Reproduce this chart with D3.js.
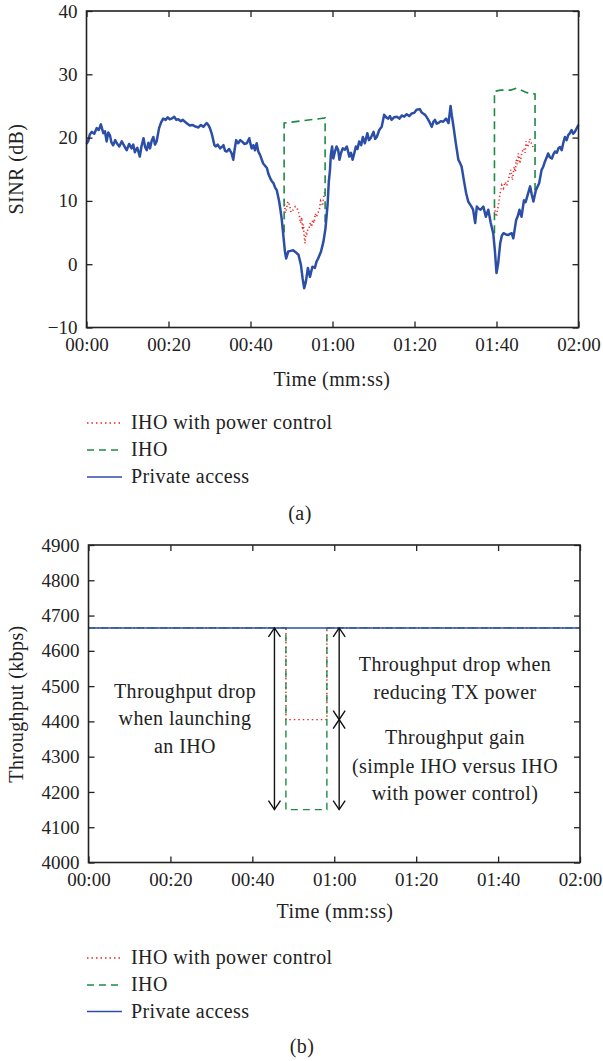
<!DOCTYPE html>
<html><head><meta charset="utf-8">
<script src="https://cdn.jsdelivr.net/npm/d3@7"></script>
<style>
html,body{margin:0;padding:0;background:#fff;}
svg text{font-family:"Liberation Serif","Times New Roman",serif;fill:#222;letter-spacing:0.4px;}
svg .tick text{letter-spacing:0;}
</style></head>
<body><svg id="c" width="603" height="1061"></svg>
<script>
// ---------- DATA ----------
const timeTicks = [0, 20, 40, 60, 80, 100, 120];
const sinrTicks = [-10, 0, 10, 20, 30, 40];
const tpTicks = [4000, 4100, 4200, 4300, 4400, 4500, 4600, 4700, 4800, 4900];
const legendLabels = ["IHO with power control", "IHO", "Private access"];

const sinrTime = [0,0.4,0.8,1.3,1.9,2.5,3.0,3.5,4.1,4.5,4.9,5.3,5.7,6.1,6.5,7.0,7.4,8.0,8.6,9.2,9.8,10.4,11.0,11.4,11.8,12.4,13.0,13.4,13.9,14.3,14.7,15.1,15.5,15.9,16.3,16.7,17.1,17.7,18.2,18.7,19.3,19.8,20.3,20.8,21.4,21.9,22.4,23.0,23.5,24.0,24.6,25.2,25.8,26.4,27.3,27.9,28.5,29.3,29.7,30.1,30.6,31.2,31.5,32.0,32.6,33.0,33.4,33.8,34.2,34.8,35.4,35.8,36.1,36.5,37.0,37.5,37.9,38.5,39.1,39.7,40.0,40.3,40.7,41.1,41.5,41.9,42.3,42.7,43.1,43.5,44.0,44.4,44.8,45.2,45.6,46.0,46.4,46.7,47.0,47.3,47.6,48.0,48.4,48.7,49.2,49.8,50.4,51.0,51.7,52.3,52.7,53.1,53.5,54.0,54.5,55.1,55.7,56.1,56.5,57.2,57.8,58.3,58.8,59.1,59.4,59.6,59.9,60.2,60.6,61.0,61.4,61.7,62.1,62.5,63.0,63.5,64.1,64.5,64.9,65.3,65.7,66.1,66.5,67.0,67.4,67.9,68.5,68.9,69.3,70.0,70.4,70.8,71.4,72.0,72.6,73.1,73.6,74.0,74.4,75.0,75.7,76.3,76.9,77.5,78.1,78.7,79.3,79.9,80.5,81.3,81.7,82.1,82.6,83.2,83.7,84.2,84.6,85.0,85.4,85.8,86.4,87.0,87.7,88.3,88.8,89.1,89.5,90.1,90.7,91.1,91.5,91.9,92.3,92.6,93.1,93.5,93.9,94.3,94.8,95.2,95.6,96.1,96.8,97.4,98.0,98.6,99.2,99.6,100.0,100.4,100.9,101.3,101.7,102.3,102.9,103.3,103.7,104.1,104.8,105.2,105.6,106.1,106.7,107.1,107.5,108.2,108.6,109.0,109.6,110.4,111.0,111.4,111.8,112.2,112.6,113.0,113.5,113.9,114.3,114.7,115.1,115.5,115.9,116.3,116.7,117.1,117.5,117.9,118.3,118.7,119.1,119.5,120];
const sinrPrivate = [19.0,19.4,20.5,20.9,20.6,21.5,21.2,22.1,20.7,21.0,19.4,20.8,20.4,19.2,18.8,19.6,19.1,18.6,19.4,18.7,18.0,19.0,18.3,18.9,17.7,18.4,17.0,18.6,19.9,18.5,18.0,19.2,18.3,19.5,20.1,18.9,19.4,21.5,22.4,23.0,22.8,23.2,22.9,23.0,23.3,22.8,22.9,22.6,22.8,22.5,22.2,21.9,22.0,21.8,21.6,22.0,21.7,22.3,22.0,21.5,20.5,18.8,18.6,18.9,18.3,18.5,18.8,17.9,17.8,18.2,17.5,16.5,18.0,19.6,19.1,19.6,19.4,19.0,19.1,19.9,19.0,18.3,18.8,18.0,19.1,17.8,17.3,16.6,15.9,15.6,15.2,14.2,13.6,13.1,12.8,12.1,11.7,10.8,9.9,8.6,7.2,4.6,2.0,0.9,2.0,2.1,2.2,1.9,1.5,-0.1,-2.2,-3.8,-2.8,-0.6,-2.0,-0.4,-0.6,0.4,0.9,2.0,3.6,5.7,9.4,13.0,15.0,17.3,18.6,16.7,17.8,18.6,18.0,16.5,17.6,18.3,18.1,18.6,17.0,17.6,16.5,17.5,18.6,18.2,19.4,18.8,20.1,19.1,20.7,19.6,19.9,20.9,19.8,20.1,21.2,21.7,23.6,23.2,23.0,23.4,22.8,23.2,23.3,23.0,23.5,23.3,23.7,23.4,23.8,23.9,24.4,24.5,24.0,23.8,23.6,23.0,22.4,21.7,22.5,22.8,22.2,22.3,22.6,22.5,23.0,22.3,25.0,23.5,21.8,19.0,16.5,16.0,15.4,13.8,12.3,11.2,9.9,9.5,9.1,8.6,6.5,9.1,8.8,8.6,9.1,7.5,8.6,6.5,4.9,2.2,-1.4,0.1,3.3,4.5,4.9,4.7,4.6,4.8,4.9,4.1,7.0,7.6,8.6,7.5,10.1,9.8,10.7,12.3,11.0,9.9,11.7,12.8,14.9,15.4,16.2,16.8,17.5,16.9,16.7,17.4,17.8,17.6,18.3,18.5,18.0,19.2,20.1,19.6,20.4,20.7,21.2,20.6,20.9,21.4,22.0];

const ihoTime = [48.2,48.2,58.2,58.2,null,99.5,99.5,101.0,103.5,104.9,107.4,109.4,109.4];
const ihoSinr = [5.0,22.3,23.1,6.5,null,4.9,27.3,27.5,27.5,27.8,27.1,26.9,11.7];

const pcTime = [48.2,48.5,48.7,49.1,49.5,49.9,50.4,50.9,51.4,51.9,52.2,52.5,52.7,52.9,53.1,53.3,53.5,53.7,54.0,54.3,54.6,54.9,55.2,55.5,55.8,56.1,56.5,56.8,57.1,57.4,57.6,57.8,58.0,58.2,null,99.5,99.7,100.0,100.2,100.4,100.7,100.9,101.3,101.7,102.1,102.5,102.9,103.2,103.5,103.9,104.3,104.6,104.8,105.1,105.3,105.5,105.7,106.1,106.4,106.7,107.0,107.2,107.5,107.8,108.1,108.3,108.7,109.0,109.4];
const pcSinr = [10.1,8.1,8.6,9.9,9.4,8.2,8.6,9.1,8.8,7.8,6.5,7.4,5.4,6.3,4.3,3.3,5.0,4.6,5.6,5.7,6.6,5.9,7.0,6.5,8.0,7.5,8.2,8.6,10.0,9.6,9.2,10.4,11.0,11.7,null,9.1,8.2,7.5,8.6,9.1,10.5,11.2,12.5,12.0,13.0,12.4,13.3,14.2,14.9,13.3,15.4,14.6,16.5,15.8,17.5,16.9,15.9,17.3,18.0,18.3,17.6,19.4,18.5,18.8,19.8,19.4,18.9,18.3,18.0];

const tpTime = [0,48.2,48.2,58.2,58.2,120];
const tpPrivate = [4665,4665,4665,4665,4665,4665];
const tpIHO = [4665,4665,4150,4150,4665,4665];
const tpPC = [4665,4665,4405,4405,4665,4665];

const arrowLeftTime = 45.4, arrowRightTime = 61.2;
const leftNote = ["Throughput drop","when launching","an IHO"];
const upperNote = ["Throughput drop when","reducing TX power"];
const lowerNote = ["Throughput gain","(simple IHO versus IHO","with power control)"];

// ---------- STYLE ----------
const C = {blue:"#2c4ea6", green:"#1f8a45", red:"#ee2222", ink:"#222"};
const FS = 20, TFS = 19;
const svg = d3.select("#c");
const fmt = s => d3.format("02d")(Math.floor(s/60)) + ":" + d3.format("02d")(s%60);

function frame(g, x, y, yTicks, yFmt){
  const [x0,x1] = x.range(), [y1,y0] = y.range();
  const tl = 6;
  g.append("g").attr("transform",`translate(0,${y1})`)
    .call(d3.axisBottom(x).tickValues(timeTicks).tickFormat(fmt).tickSize(-tl).tickPadding(10))
    .call(a=>{a.select(".domain").remove(); a.selectAll("line").attr("stroke",C.ink).attr("stroke-width",1.3);
      a.selectAll("text").attr("font-size",TFS).attr("fill",C.ink);});
  g.append("g").attr("transform",`translate(0,${y0})`)
    .call(d3.axisTop(x).tickValues(timeTicks).tickFormat("").tickSize(-tl))
    .call(a=>{a.select(".domain").remove(); a.selectAll("line").attr("stroke",C.ink).attr("stroke-width",1.3);});
  g.append("g").attr("transform",`translate(${x0},0)`)
    .call(d3.axisLeft(y).tickValues(yTicks).tickFormat(yFmt).tickSize(-tl).tickPadding(9))
    .call(a=>{a.select(".domain").remove(); a.selectAll("line").attr("stroke",C.ink).attr("stroke-width",1.3);
      a.selectAll("text").attr("font-size",TFS).attr("fill",C.ink);});
  g.append("g").attr("transform",`translate(${x1},0)`)
    .call(d3.axisRight(y).tickValues(yTicks).tickFormat("").tickSize(-tl))
    .call(a=>{a.select(".domain").remove(); a.selectAll("line").attr("stroke",C.ink).attr("stroke-width",1.3);});
  g.append("rect").attr("x",x0).attr("y",y0).attr("width",x1-x0).attr("height",y1-y0)
    .attr("fill","none").attr("stroke",C.ink).attr("stroke-width",1.6);
}

function legend(g, x0, ys){
  const st = [{c:C.red,d:"1.5,3",w:1.5},{c:C.green,d:"7,5",w:1.6},{c:C.blue,d:null,w:1.6}];
  legendLabels.forEach((lab,i)=>{
    g.append("line").attr("x1",x0).attr("x2",x0+35).attr("y1",ys[i]).attr("y2",ys[i])
      .attr("stroke",st[i].c).attr("stroke-width",st[i].w).attr("stroke-dasharray",st[i].d);
    g.append("text").attr("x",x0+44).attr("y",ys[i]+6).attr("font-size",FS).text(lab);
  });
}

function lineGen(x,y){
  return d3.line().defined(d=>d[0]!==null && d[1]!==null).x(d=>x(d[0])).y(d=>y(d[1]));
}

// ---------- CHART (a) ----------
const xa = d3.scaleLinear().domain([0,120]).range([86.5,578.5]);
const ya = d3.scaleLinear().domain([-10,40]).range([327.5,11]);
const ga = svg.append("g");
const la = lineGen(xa,ya);
ga.append("path").datum(pcTime.map((t,i)=>[t,pcSinr[i]])).attr("d",la)
  .attr("fill","none").attr("stroke",C.red).attr("stroke-width",1.6).attr("stroke-dasharray","1.2,2.6");
ga.append("path").datum(ihoTime.map((t,i)=>[t,ihoSinr[i]])).attr("d",la)
  .attr("fill","none").attr("stroke",C.green).attr("stroke-width",1.6).attr("stroke-dasharray","8,5");
ga.append("path").datum(sinrTime.map((t,i)=>[t,sinrPrivate[i]])).attr("d",la)
  .attr("fill","none").attr("stroke",C.blue).attr("stroke-width",2.5).attr("stroke-linejoin","round");
frame(ga, xa, ya, sinrTicks, d=> d<0 ? "\u2212"+Math.abs(d) : d);
ga.append("text").attr("transform",`translate(23,169) rotate(-90)`).attr("text-anchor","middle")
  .attr("font-size",FS).text("SINR (dB)");
ga.append("text").attr("x",332).attr("y",386).attr("text-anchor","middle").attr("font-size",FS).text("Time (mm:ss)");
legend(ga, 87, [423,450,477]);
ga.append("text").attr("x",300).attr("y",520).attr("text-anchor","middle").attr("font-size",FS).text("(a)");

// ---------- CHART (b) ----------
const xb = d3.scaleLinear().domain([0,120]).range([88.5,580]);
const yb = d3.scaleLinear().domain([4000,4900]).range([862.5,545]);
const gb = svg.append("g");
const lb = lineGen(xb,yb);
gb.append("path").datum(tpTime.map((t,i)=>[t,tpPC[i]])).attr("d",lb)
  .attr("fill","none").attr("stroke",C.red).attr("stroke-width",1.4).attr("stroke-dasharray","1.5,3");
gb.append("path").datum(tpTime.map((t,i)=>[t,tpIHO[i]])).attr("d",lb)
  .attr("fill","none").attr("stroke",C.green).attr("stroke-width",1.4).attr("stroke-dasharray","7,5");
gb.append("path").datum(tpTime.map((t,i)=>[t,tpPrivate[i]])).attr("d",lb)
  .attr("fill","none").attr("stroke",C.blue).attr("stroke-width",1.5);
frame(gb, xb, yb, tpTicks, d=>d);

function dblArrow(x, ya_, yb_){
  const h=9, w=6;
  gb.append("line").attr("x1",x).attr("x2",x).attr("y1",ya_).attr("y2",yb_).attr("stroke","#111").attr("stroke-width",1.4);
  gb.append("path").attr("d",`M${x-w},${ya_+h}L${x},${ya_}L${x+w},${ya_+h}`).attr("fill","none").attr("stroke","#111").attr("stroke-width",1.4);
  gb.append("path").attr("d",`M${x-w},${yb_-h}L${x},${yb_}L${x+w},${yb_-h}`).attr("fill","none").attr("stroke","#111").attr("stroke-width",1.4);
}
dblArrow(xb(arrowLeftTime), yb(4665), yb(4150));
dblArrow(xb(arrowRightTime), yb(4665), yb(4405));
dblArrow(xb(arrowRightTime), yb(4405), yb(4150));

const noteY1 = [691.7,719.3,746.7], noteY2=[665,692.7], noteY3=[738.3,766.7,794];
leftNote.forEach((s,i)=>gb.append("text").attr("x",185).attr("y",noteY1[i]+6).attr("text-anchor","middle").attr("font-size",FS).text(s));
upperNote.forEach((s,i)=>gb.append("text").attr("x",455).attr("y",noteY2[i]+6).attr("text-anchor","middle").attr("font-size",FS).text(s));
lowerNote.forEach((s,i)=>gb.append("text").attr("x",455).attr("y",noteY3[i]+6).attr("text-anchor","middle").attr("font-size",FS).text(s));

gb.append("text").attr("transform",`translate(23,704) rotate(-90)`).attr("text-anchor","middle")
  .attr("font-size",FS).text("Throughput (kbps)");
gb.append("text").attr("x",335).attr("y",918).attr("text-anchor","middle").attr("font-size",FS).text("Time (mm:ss)");
legend(gb, 87, [958,985,1011.5]);
gb.append("text").attr("x",302).attr("y",1053).attr("text-anchor","middle").attr("font-size",FS).text("(b)");
</script></body></html>
